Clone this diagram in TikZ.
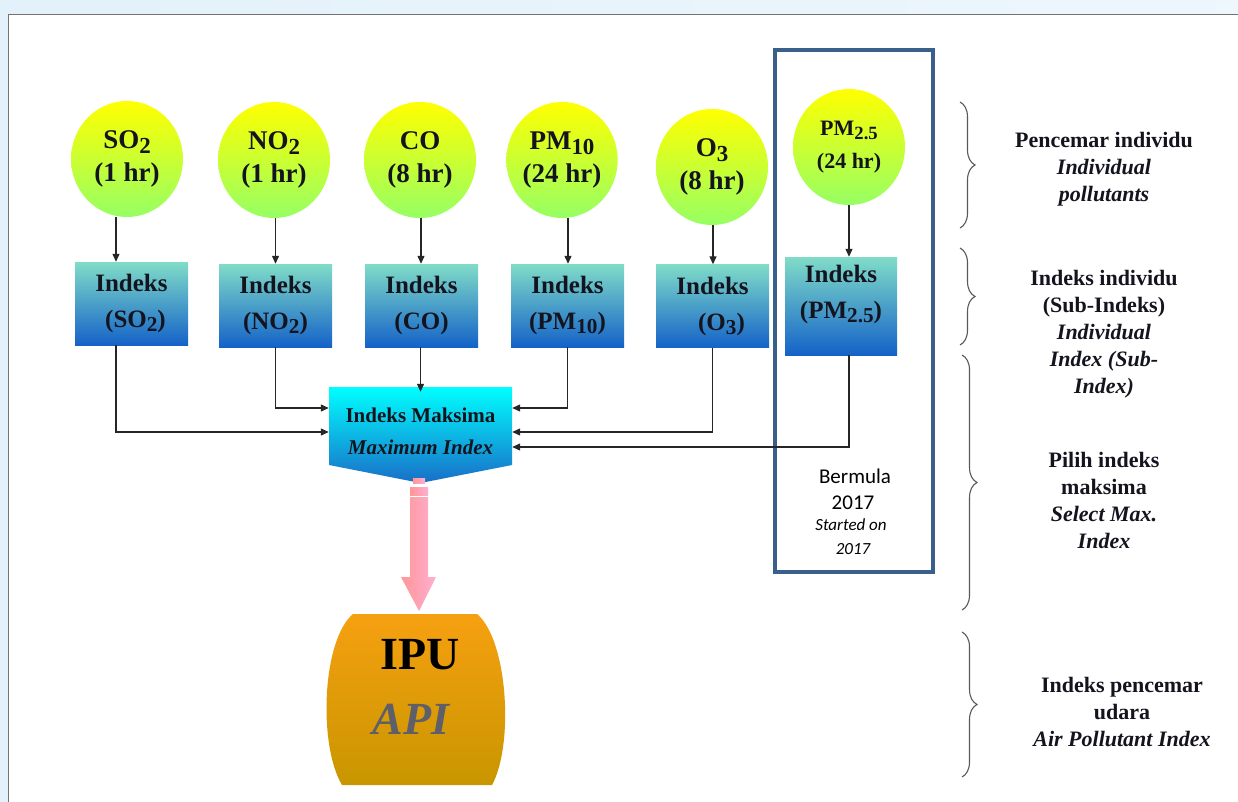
\documentclass[tikz,border=0pt]{standalone}
\usepackage{fontspec}
\setmainfont{Liberation Serif}
\newfontfamily\tnr{Liberation Serif}
\newfontfamily\calfont{Carlito}
\usepackage{graphicx}
\usetikzlibrary{shapes.geometric,arrows.meta,decorations.pathreplacing,calc}
\newcommand\lsub[1]{\raisebox{-0.38ex}{\scalebox{0.85}{#1}}}
\definecolor{yel}{RGB}{255,255,0}
\definecolor{grn}{RGB}{150,255,100}
\definecolor{tealtop}{RGB}{128,220,200}
\definecolor{bluebot}{RGB}{20,98,200}
\definecolor{cyantop}{RGB}{0,255,255}
\definecolor{maxbot}{RGB}{25,110,200}
\definecolor{frameblue}{RGB}{58,95,138}
\definecolor{orgtop}{RGB}{246,160,16}
\definecolor{orgbot}{RGB}{200,150,0}
\definecolor{pinkl}{RGB}{255,150,150}
\definecolor{pinkr}{RGB}{255,175,210}
\definecolor{bgblue}{RGB}{226,241,250}
\definecolor{apigray}{RGB}{95,95,105}
\definecolor{ink}{RGB}{20,20,30}
\begin{document}
\begin{tikzpicture}[x=1pt,y=-1pt,
  poll/.style={ellipse, minimum width=112pt, minimum height=116pt, inner sep=0pt,
    top color=yel, bottom color=grn, align=center, text=ink,
    font=\tnr\fontsize{27}{33}\selectfont\bfseries},
  idx/.style={rectangle, minimum width=113pt, minimum height=83pt, inner sep=0pt,
    top color=tealtop, bottom color=bluebot, align=center, text=ink,
    font=\tnr\fontsize{25}{36}\selectfont\bfseries},
  conn/.style={-{Triangle[length=8pt,width=7pt]}, line width=1.2pt, draw=black!85},
  brc/.style={decorate, decoration={brace, amplitude=15pt}, line width=1.1pt, draw=black!65},
  lbl/.style={align=center, text=ink, font=\tnr\fontsize{22}{27}\selectfont\bfseries},
  frtxt/.style={inner sep=0pt, font=\calfont\fontsize{21}{24}\selectfont},
  frit/.style={inner sep=0pt, font=\calfont\itshape\fontsize{17}{20}\selectfont}
]
\useasboundingbox (0,0) rectangle (1238,802);
% background
\shade[left color=bgblue, right color=bgblue!60!white] (0,0) rectangle (1238,802);
\fill[white] (8,15) rectangle (1238,802);
\draw[black!55, line width=1pt] (8,802) -- (8,15) -- (1238,15);

% frame for PM2.5
\node[draw=frameblue, line width=4pt, minimum width=158pt, minimum height=522pt, inner sep=0pt] (frame) at (854,311) {};

% pollutant ellipses
\node[poll] (pso) at (127,159) {SO\lsub{2}\\(1 hr)};
\node[poll] (pno) at (274,160) {NO\lsub{2}\\(1 hr)};
\node[poll] (pco) at (420,160) {CO\\(8 hr)};
\node[poll, minimum width=108pt] (ppm) at (562,160) {PM\lsub{10}\\(24 hr)};
\node[poll] (po3) at (712,167) {O\lsub{3}\\(8 hr)};
\node[poll, font=\tnr\fontsize{22}{33}\selectfont\bfseries] (ppf) at (849,147) {PM\lsub{2.5}\\(24 hr)};

% index boxes
\node[idx] (iso) at (131.5,303.5) {Indeks\\\hspace*{8pt}(SO\lsub{2})};
\node[idx] (ino) at (275.5,305.5) {Indeks\\(NO\lsub{2})};
\node[idx] (ico) at (421.5,305.5) {Indeks\\(CO)};
\node[idx] (ipm) at (567.5,305.5) {Indeks\\(PM\lsub{10})};
\node[idx] (io3) at (712.5,306) {Indeks\\\hspace*{18pt}(O\lsub{3})};
\node[idx, minimum width=112pt, minimum height=98pt] (ipf) at (841,306) {};
\node[inner sep=0pt, align=center, text=ink, font=\tnr\fontsize{25}{36}\selectfont\bfseries] (ipft) at (841,294) {Indeks\\(PM\lsub{2.5})};

% maximum index
\shade[top color=cyantop, bottom color=maxbot] (329,387) -- (512,387) -- (512,465) -- (420.5,483) -- (329,465) -- cycle;
\node[minimum width=183pt, minimum height=78pt, inner sep=0pt, align=center, text=ink,
  font=\tnr\fontsize{21}{32}\selectfont\bfseries] (max) at (420.5,431)
  {Indeks Maksima\\\itshape Maximum Index};

% IPU barrel
\shade[top color=orgtop, bottom color=orgbot]
  (353,614) -- (477,614)
  .. controls (508,640) and (514,745) .. (492,785)
  -- (342,785)
  .. controls (318,745) and (322,640) .. (353,614) -- cycle;
\node[inner sep=0pt, text=black, font=\tnr\fontsize{46}{50}\selectfont\bfseries] (ipu) at (420,655) {IPU};
\node[inner sep=0pt, font=\tnr\fontsize{46}{50}\selectfont\bfseries\itshape, text=apigray] (api) at (411,719) {API};
\coordinate (ipunorth) at (419,611);

% pink block arrow
\shade[left color=pinkl, right color=pinkr] (413,478) rectangle (425,483);
\shade[left color=pinkl, right color=pinkr] (410,487) rectangle (428,495);
\shade[left color=pinkl, right color=pinkr]
  (410,497) -- (428,497) -- (428,577) -- (436,577) -- (ipunorth) -- (401,577) -- (410,577) -- cycle;

% connectors ellipse -> box
\draw[conn] ([xshift=-11pt]pso.south) -- ([xshift=-11pt]pso.south |- iso.north);
\draw[conn] ([xshift=1.5pt]pno.south) -- ([xshift=1.5pt]pno.south |- ino.north);
\draw[conn] ([xshift=1pt]pco.south) -- ([xshift=1pt]pco.south |- ico.north);
\draw[conn] ([xshift=6pt]ppm.south) -- ([xshift=6pt]ppm.south |- ipm.north);
\draw[conn] ([xshift=1pt]po3.south) -- ([xshift=1pt]po3.south |- io3.north);
\draw[conn] (ppf.south) -- (ppf.south |- ipf.north);

% connectors box -> max
\draw[conn] ([xshift=-15.5pt]iso.south) |- ([yshift=-1pt]max.west);
\draw[conn] (ino.south) |- ([yshift=23pt]max.west);
\draw[conn] ([xshift=-1pt]ico.south) -- ([xshift=-1pt]ico.south |- max.north);
\draw[conn] (ipm.south) |- ([yshift=23pt]max.east);
\draw[conn] (io3.south) |- ([yshift=-1pt]max.east);
\draw[conn] ([xshift=8pt]ipf.south) |- ([yshift=-16pt]max.east);

% frame text
\node[frtxt] (s1) at (855,476) {Bermula};
\node[frtxt] (s2) at (853,503) {2017};
\node[frit] (s3) at (851,525) {Started on};
\node[frit] (s4) at (853,549) {2017};

% braces
\draw[brc] (960,102) -- (960,228);
\draw[brc] (960,248) -- (960,345);
\draw[brc] (962,355) -- (962,610);
\draw[brc] (962,632) -- (962,777);

% right labels
\node[lbl] (l1) at (1104,169) {Pencemar individu\\\itshape Individual\\\itshape pollutants};
\node[lbl] (l2) at (1104,334) {Indeks individu\\(Sub-Indeks)\\\itshape Individual\\\itshape Index (Sub-\\\itshape Index)};
\node[lbl] (l3) at (1104,500) {Pilih indeks\\maksima\\\itshape Select Max.\\\itshape Index};
\node[lbl] (l4) at (1122,712) {Indeks pencemar\\udara\\\itshape Air Pollutant Index};
\end{tikzpicture}
\end{document}
